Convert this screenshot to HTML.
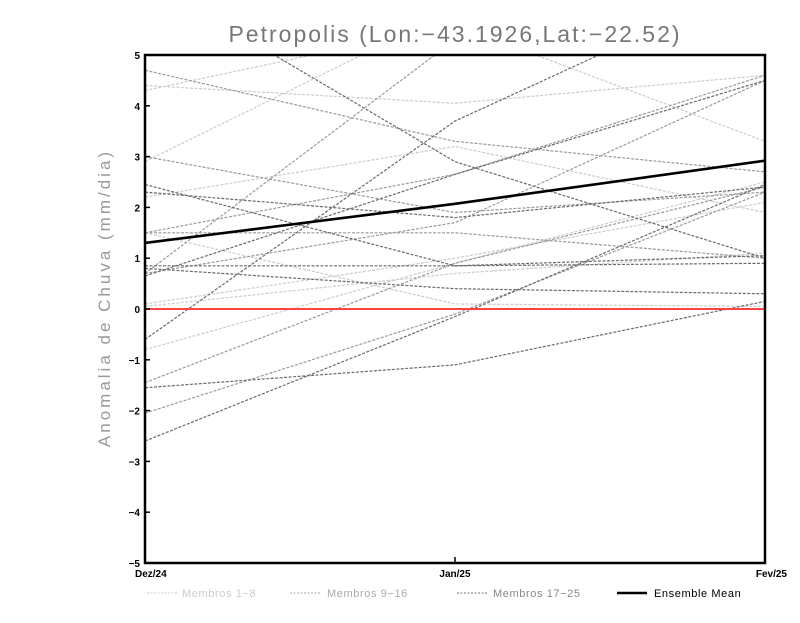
<!DOCTYPE html>
<html><head><meta charset="utf-8"><style>
body{margin:0;background:#fff}
svg text{font-family:"Liberation Sans",sans-serif}
</style></head><body>
<svg id="chart" width="800" height="618" xmlns="http://www.w3.org/2000/svg">
<defs><clipPath id="clip"><rect x="145" y="55" width="620" height="508"/></clipPath></defs>
<rect width="800" height="618" fill="#fff"/>
<text x="455" y="42" text-anchor="middle" font-size="23" fill="#777" letter-spacing="2">Petropolis (Lon:−43.1926,Lat:−22.52)</text>
<text transform="translate(110,298) rotate(-90)" text-anchor="middle" font-size="17" fill="#999" letter-spacing="3">Anomalia de Chuva (mm/dia)</text>
<g id="series" clip-path="url(#clip)"></g>
<g id="axes"></g>
<g>
<line x1="147" y1="593" x2="177" y2="593" stroke="#ccc" stroke-dasharray="2,1.5"/>
<text x="182" y="597" font-size="11" fill="#ccc" letter-spacing="0.6">Membros 1−8</text>
<line x1="290" y1="593" x2="320" y2="593" stroke="#aaa" stroke-dasharray="2,1.5"/>
<text x="327" y="597" font-size="11" fill="#aaa" letter-spacing="0.6">Membros 9−16</text>
<line x1="457" y1="593" x2="487" y2="593" stroke="#777" stroke-dasharray="2,1.5"/>
<text x="493" y="597" font-size="11" fill="#888" letter-spacing="0.6">Membros 17−25</text>
<line x1="617" y1="593" x2="647" y2="593" stroke="#000" stroke-width="2.5"/>
<text x="654" y="597" font-size="11" fill="#000" letter-spacing="0.6">Ensemble Mean</text>
</g>
</svg>
<script>
const categories=["Dez/24","Jan/25","Fev/25"];
const yTicks=[-5,-4,-3,-2,-1,0,1,2,3,4,5];
const members1to8=[[4.4,4.05,4.6],[4.3,5.6,3.3],[2.9,5.9,6],[2.2,3.2,1.9],[1.5,0.1,0.05],[0.05,0.7,1.1],[0.1,1.0,2.1],[-0.8,0.9,2.5]];
const members9to16=[[4.7,3.3,2.7],[3.0,1.9,2.3],[1.5,2.65,4.6],[0.7,1.7,4.5],[-1.45,0.9,2.4],[-2.05,-0.1,2.3],[0.7,5.3,6],[1.5,1.5,1.0]];
const members17to25=[[6.5,2.9,1.0],[-0.6,3.7,6.5],[2.45,0.85,1.05],[2.3,1.8,2.4],[0.8,0.4,0.3],[0.85,0.85,0.9],[-1.55,-1.1,0.15],[-2.6,-0.15,2.45],[0.65,2.65,4.5]];
const ensembleMean=[1.3,2.07,2.92];
const NS="http://www.w3.org/2000/svg";
const xs=i=>145+i*(620/(categories.length-1));
const ys=v=>309-v*50.8;
const sg=document.getElementById('series'),ag=document.getElementById('axes');
function mk(tag,attrs,parent){const e=document.createElementNS(NS,tag);for(const k in attrs)e.setAttribute(k,attrs[k]);parent.appendChild(e);return e;}
function pts(a){return a.map((v,i)=>xs(i)+","+ys(v)).join(" ");}
function drawGroup(arr,color,name){arr.forEach((s,j)=>{const p=mk('polyline',{points:pts(s),fill:'none',stroke:color,'stroke-width':1.2,'stroke-dasharray':'3,1.5'},sg);

});}
drawGroup(members1to8,'#ccc','member-light');
drawGroup(members9to16,'#9a9a9a','member-mid');
drawGroup(members17to25,'#6a6a6a','member-dark');
const zl=mk('line',{x1:145,x2:765,y1:ys(0),y2:ys(0),stroke:'#f44',"stroke-width":2},sg);


const em=mk('polyline',{points:pts(ensembleMean),fill:'none',stroke:'#000','stroke-width':2.6},sg);


const fr=mk('rect',{x:145,y:55,width:620,height:508,fill:'none',stroke:'#000','stroke-width':2.5},ag);


yTicks.forEach(t=>{mk('line',{x1:145,x2:150,y1:ys(t),y2:ys(t),stroke:'#000','stroke-width':1.5},ag);
const tx=mk('text',{x:140,y:ys(t)+4,'text-anchor':'end','font-size':10,'font-weight':'bold'},ag);tx.textContent=String(t).replace('-','−');

});
categories.forEach((c,i)=>{mk('line',{x1:xs(i),x2:xs(i),y1:563,y2:557,stroke:'#000','stroke-width':1.5},ag);
const anchor=i==0?'start':(i==categories.length-1?'end':'middle');
const tx=mk('text',{x:i==0?135:(i==categories.length-1?787:xs(i)),y:577,'text-anchor':anchor,'font-size':10,'font-weight':'bold'},ag);tx.textContent=c;

});
</script>
</body></html>
